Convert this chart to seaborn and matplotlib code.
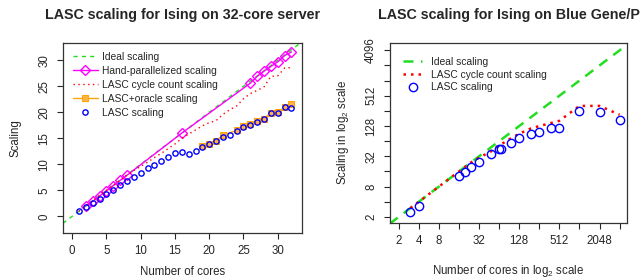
import matplotlib
matplotlib.use("Agg")
import matplotlib.pyplot as plt
import numpy as np
import pandas as pd
import seaborn as sns

# ---- 32-core server data ----
cores = list(range(1, 33))
lasc = [1.0, 1.8, 2.6, 3.4, 4.3, 5.1, 6.0, 6.8, 7.6, 8.4, 9.3, 9.9, 10.6, 11.4, 12.1, 12.4,
        11.9, 12.6, 13.4, 13.9, 14.5, 15.2, 15.7, 16.4, 17.2, 17.6, 18.1, 18.7, 19.8, 19.9, 21.0, 20.9]
cycle = [1.0, 2.0, 3.0, 4.0, 5.0, 6.0, 6.9, 7.9, 8.8, 9.6, 10.4, 11.3, 12.1, 13.0, 13.9, 15.0,
         15.8, 16.6, 17.4, 18.0, 18.4, 19.6, 20.5, 21.2, 22.6, 23.6, 24.2, 24.9, 26.9, 27.0, 28.5, 28.6]
hand_cores = [2, 3, 4, 5, 6, 7, 8, 16, 26, 27, 28, 29, 30, 31, 32]
hand = [2.0, 2.9, 3.9, 4.9, 5.9, 6.9, 7.9, 16.0, 25.6, 26.9, 27.9, 28.8, 29.7, 30.9, 31.6]
oracle_cores = [19, 20, 21, 22, 24, 25, 26, 27, 28, 29, 30, 31, 32]
oracle = [13.5, 13.85, 14.5, 15.6, 16.5, 17.3, 17.7, 18.3, 18.8, 19.9, 20.0, 21.0, 21.5]

# ---- Blue Gene/P data ----
bg_cores = [3, 4, 16, 20, 24, 32, 48, 64, 68, 96, 128, 192, 256, 384, 512, 1024, 2048, 4096]
bg_lasc = [2.48, 3.25, 13.1, 15.9, 19.2, 24.8, 35.3, 44.3, 45.6, 60.1, 73, 90.5, 97.7, 117, 119, 251, 244, 166]
bg_cycle = [3, 4, 16, 20, 24, 30, 40, 53, 55, 73, 90, 115, 128, 147, 163, 322, 322, 215]

sns.set_style("ticks")
plt.rcParams["font.family"] = ["Liberation Sans", "DejaVu Sans"]
plt.rcParams["mathtext.default"] = "regular"

GREEN = "#22dd22"
FS = 8.3
LFS = 7.4

fig = plt.figure(figsize=(6.42, 2.78), dpi=100)
ax1 = fig.add_axes([0.098, 0.162, 0.372, 0.683])
ax2 = fig.add_axes([0.607, 0.198, 0.370, 0.647])

# left panel
xl = (-1.35, 33.5)
yl = (-3.2, 33.3)
ideal = pd.DataFrame({"x": [xl[0], xl[1]], "y": [xl[0], xl[1]]})
sns.lineplot(data=ideal, x="x", y="y", ax=ax1, color=GREEN, lw=1.0,
             linestyle=(0, (3, 3)), label="Ideal scaling")
sns.lineplot(x=hand_cores, y=hand, ax=ax1, color="magenta", lw=1.0, marker="D", ms=5,
             markerfacecolor="none", markeredgecolor="magenta", markeredgewidth=1.0,
             label="Hand-parallelized scaling")
sns.lineplot(x=cores, y=cycle, ax=ax1, color="red", lw=1.0, linestyle=(0, (1, 2.5)),
             label="LASC cycle count scaling")
sns.lineplot(x=oracle_cores, y=oracle, ax=ax1, color="orange", lw=1.0, marker="s", ms=4.5,
             markerfacecolor="#ffb347", markeredgecolor="orange",
             label="LASC+oracle scaling")
sns.lineplot(x=cores, y=lasc, ax=ax1, color="blue", lw=0, marker="o", ms=3.8,
             markerfacecolor="none", markeredgecolor="blue", markeredgewidth=1.0,
             label="LASC scaling")
ax1.set_xlim(*xl)
ax1.set_ylim(*yl)
ax1.set_xticks(range(0, 31, 5))
ax1.set_yticks(range(0, 31, 5))
ax1.set_title("LASC scaling for Ising on 32-core server", fontsize=10.3, fontweight="bold", pad=17)
ax1.set_xlabel("Number of cores", fontsize=FS, labelpad=6)
ax1.set_ylabel("Scaling", fontsize=FS, labelpad=12)
ax1.legend(loc="upper left", frameon=False, fontsize=LFS, handlelength=2.4, handletextpad=0.45,
           labelspacing=0.38, borderaxespad=0.0, bbox_to_anchor=(0.025, 0.975))

# right panel
lxl = (2 ** 0.55, 2 ** 12.38)
lyl = (2 ** 0.6, 2 ** 12.48)
ideal2 = pd.DataFrame({"x": [lxl[0], lxl[1]], "y": [lxl[0], lxl[1]]})
sns.lineplot(data=ideal2, x="x", y="y", ax=ax2, color=GREEN, lw=1.8,
             linestyle=(0, (4, 3)), label="Ideal scaling")
sns.lineplot(x=bg_cores, y=bg_cycle, ax=ax2, color="red", lw=1.8, linestyle=(0, (1, 2)),
             label="LASC cycle count scaling")
sns.lineplot(x=bg_cores, y=bg_lasc, ax=ax2, color="blue", lw=0, marker="o", ms=6,
             markerfacecolor="none", markeredgecolor="blue", markeredgewidth=1.0,
             label="LASC scaling")
ax2.set_xscale("log", base=2)
ax2.set_yscale("log", base=2)
ax2.set_xlim(*lxl)
ax2.set_ylim(*lyl)
pw = [2 ** k for k in range(1, 13)]
ax2.set_xticks(pw)
ax2.set_xticklabels([str(v) if v in (2, 4, 8, 32, 128, 512, 2048) else "" for v in pw])
ax2.set_yticks(pw)
ax2.set_yticklabels([str(v) if v in (2, 8, 32, 128, 512, 4096) else "" for v in pw])
ax2.minorticks_off()
ax2.set_title("LASC scaling for Ising on Blue Gene/P", fontsize=10.3, fontweight="bold", pad=17)
ax2.set_xlabel("Number of cores in log$_2$ scale", fontsize=FS, labelpad=11)
ax2.set_ylabel("Scaling in log$_2$ scale", fontsize=FS, labelpad=10)
ax2.legend(loc="upper left", frameon=False, fontsize=LFS, handlelength=1.8, handletextpad=0.9,
           labelspacing=0.25, borderaxespad=0.0, bbox_to_anchor=(0.04, 0.945))

for ax in (ax1, ax2):
    for s in ax.spines.values():
        s.set_visible(True)
        s.set_color("#333333")
        s.set_linewidth(0.9)
    ax.tick_params(labelsize=FS, length=4, width=0.8, direction="out", pad=5)
    for lab in ax.get_yticklabels():
        lab.set_rotation(90)
        lab.set_va("center")

fig.savefig("out.png", dpi=100)
